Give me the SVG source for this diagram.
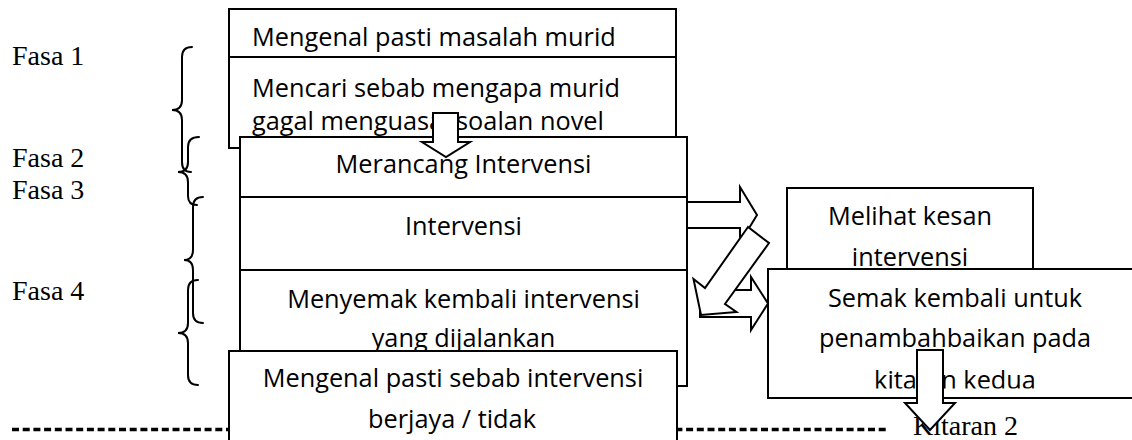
<svg xmlns="http://www.w3.org/2000/svg" width="1132" height="440" viewBox="0 0 1132 440">
  <style>
    .box { fill: #fff; stroke: #000; stroke-width: 2; }
    .arrow { fill: #fff; stroke: #000; stroke-width: 2; stroke-linejoin: miter; }
    .brace { fill: none; stroke: #000; stroke-width: 2; stroke-linecap: round; }
    .t { font-family: "Open Sans", "Liberation Sans", sans-serif; font-size: 25.3px; fill: #000; }
    .c { text-anchor: middle; }
    .lbl { font-family: "Liberation Serif", "Times New Roman", serif; font-size: 28px; fill: #000; }
    .sep { fill: none; stroke: #000; stroke-width: 3.5; stroke-dasharray: 7 3.7; }
  </style>
  <defs>
    <clipPath id="clip-semak">
      <rect x="768" y="269" width="380" height="119.5"/>
    </clipPath>
  </defs>

  <!-- phase labels and braces -->
  <g id="phases">
    <text class="lbl" x="12" y="65">Fasa 1</text>
    <text class="lbl" x="12" y="167">Fasa 2</text>
    <text class="lbl" x="12" y="199">Fasa 3</text>
    <text class="lbl" x="12" y="300">Fasa 4</text>
    <path class="brace" d="M192,47 Q182,47 182,57 L182,100 Q182,110 172,110 Q182,110 182,120 L182,162 Q182,172 191,172"/>
    <path class="brace" d="M199,137 Q188,137 188,147 L188,162 Q188,172 178,172 Q188,172 188,182 L188,196 Q188,205 197,205"/>
    <path class="brace" d="M203,197 Q193,197 193,207 L193,250 Q193,260 184,260 Q193,260 193,270 L193,313 Q193,323 203,323"/>
    <path class="brace" d="M198,280 Q188,280 188,290 L188,323 Q188,333 178,333 Q188,333 188,343 L188,375 Q188,385 198,385"/>
  </g>

  <!-- cycle separator -->
  <g id="separator">
    <line class="sep" x1="12" y1="429.5" x2="888" y2="429.5"/>
    <text class="lbl" x="913" y="435">Kitaran 2</text>
  </g>

  <g id="n-masalah">
    <rect class="box" x="229" y="9" width="447" height="48"/>
    <text class="t" x="252" y="46">Mengenal pasti masalah murid</text>
  </g>

  <g id="n-sebab">
    <rect class="box" x="229" y="57" width="447" height="91"/>
    <text class="t" x="252" y="97">Mencari sebab mengapa murid</text>
    <text class="t" x="252" y="130">gagal menguasai soalan novel</text>
  </g>

  <g id="n-merancang">
    <rect class="box" x="240" y="137" width="447" height="60"/>
    <text class="t c" x="463.5" y="173">Merancang Intervensi</text>
  </g>

  <g id="n-intervensi">
    <rect class="box" x="240" y="197" width="447" height="73"/>
    <text class="t c" x="463.5" y="235">Intervensi</text>
  </g>

  <g id="n-menyemak">
    <rect class="box" x="240" y="270" width="447" height="116"/>
    <text class="t c" x="463.5" y="308">Menyemak kembali intervensi</text>
    <text class="t c" x="463.5" y="347">yang dijalankan</text>
  </g>

  <g id="n-berjaya">
    <rect class="box" x="229" y="351" width="448" height="100"/>
    <text class="t c" x="453" y="387">Mengenal pasti sebab intervensi</text>
    <text class="t c" x="452" y="428">berjaya / tidak</text>
  </g>

  <g id="n-kesan">
    <rect class="box" x="787" y="188" width="246" height="100"/>
    <text class="t c" x="910" y="225">Melihat kesan</text>
    <text class="t c" x="910" y="266">intervensi</text>
  </g>

  <g id="n-semak">
    <rect class="box" x="768" y="269" width="380" height="129"/>
    <g clip-path="url(#clip-semak)">
      <text class="t c" x="955" y="307">Semak kembali untuk</text>
      <text class="t c" x="955" y="347">penambahbaikan pada</text>
      <text class="t c" x="955" y="389">kitaran kedua</text>
    </g>
  </g>

  <!-- block arrows -->
  <g id="connectors">
    <path class="arrow" d="M433,113 H458 V142 H470 L446,157 L422,142 H433 Z"/>
    <path class="arrow" d="M687,202 H740 V187 L757,215 L740,243 V228 H687 Z"/>
    <path class="arrow" d="M700,290 H751 V277 L768,303.5 L751,330 V317 H700 Z"/>
    <path class="arrow" d="M748,227 L705,288 L693.5,279 L701,315 L736.5,312 L725,304 L769,243 Z"/>
    <path class="arrow" d="M917,350 H943 V403 H955 L930,430 L905,403 H917 Z"/>
  </g>
</svg>
